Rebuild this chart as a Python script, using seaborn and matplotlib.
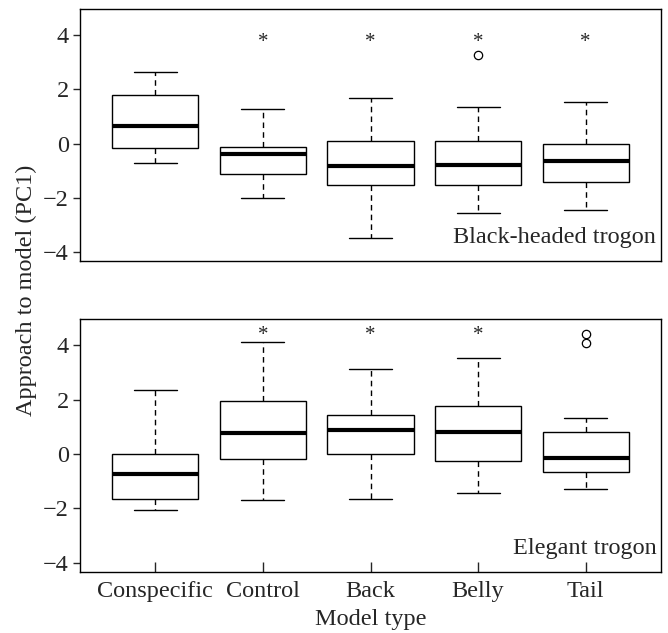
import numpy as np
import pandas as pd
import matplotlib
matplotlib.use("Agg")
import matplotlib.pyplot as plt
import seaborn as sns

categories = ["Conspecific", "Control", "Back", "Belly", "Tail"]

# Black-headed trogon: lower whisker, Q1, median, Q3, upper whisker
bh_low = [-0.73, -2.02, -3.49, -2.57, -2.44]
bh_q1 = [-0.17, -1.12, -1.54, -1.54, -1.41]
bh_med = [0.65, -0.38, -0.83, -0.79, -0.64]
bh_q3 = [1.78, -0.11, 0.09, 0.09, -0.02]
bh_high = [2.64, 1.26, 1.68, 1.34, 1.53]
bh_out_cat = ["Belly"]
bh_out_val = [3.27]
bh_sig = [False, True, True, True, True]

# Elegant trogon
el_low = [-2.06, -1.68, -1.67, -1.43, -1.27]
el_q1 = [-1.67, -0.20, 0.02, -0.25, -0.67]
el_med = [-0.74, 0.78, 0.89, 0.81, -0.15]
el_q3 = [0.00, 1.96, 1.44, 1.78, 0.80]
el_high = [2.35, 4.11, 3.12, 3.54, 1.31]
el_out_cat = ["Tail", "Tail"]
el_out_val = [4.43, 4.08]
el_sig = [False, True, True, True, False]

sns.set_style("ticks")
plt.rcParams["font.family"] = ["Liberation Serif", "DejaVu Serif"]
plt.rcParams["font.size"] = 17.5
plt.rcParams["axes.linewidth"] = 1.0

fig = plt.figure(figsize=(6.68, 6.33), dpi=100)
ax_top = fig.add_axes([0.1198, 0.5877, 0.8697, 0.3981])
ax_bot = fig.add_axes([0.1198, 0.0968, 0.8697, 0.3988])


def panel(ax, low, q1, med, q3, high, out_cat, out_val, sig, label, sig_y):
    rows = []
    for i, cat in enumerate(categories):
        for v in (low[i], q1[i], med[i], q3[i], high[i]):
            rows.append({"model": cat, "value": v})
    df = pd.DataFrame(rows)
    sns.boxplot(data=df, x="model", y="value", order=categories, ax=ax,
                whis=np.inf, width=0.8, color="white", linecolor="black",
                linewidth=1.0, saturation=1,
                medianprops={"linewidth": 3.0, "solid_capstyle": "butt"},
                whiskerprops={"linestyle": (0, (4, 3))})
    sns.stripplot(x=out_cat, y=out_val, order=categories, ax=ax, jitter=False,
                  color="white", edgecolor="black", linewidth=0.9, size=6)
    for i, s in enumerate(sig):
        if s:
            ax.text(i, sig_y, "*", ha="center", va="center", fontsize=15)
    ax.text(0.992, 0.07, label, transform=ax.transAxes, ha="right",
            va="baseline", fontsize=17.5)
    ax.set_xlim(-0.70, 4.70)
    ax.set_ylim(-4.33, 4.96)
    ax.set_yticks([-4, -2, 0, 2, 4])
    ax.set_ylabel("")
    ax.set_xlabel("")
    ax.tick_params(axis="y", direction="out", length=5, width=1, pad=3)
    for sp in ax.spines.values():
        sp.set_visible(True)
        sp.set_color("black")


panel(ax_top, bh_low, bh_q1, bh_med, bh_q3, bh_high, bh_out_cat, bh_out_val,
      bh_sig, "Black-headed trogon", 3.72)
panel(ax_bot, el_low, el_q1, el_med, el_q3, el_high, el_out_cat, el_out_val,
      el_sig, "Elegant trogon", 4.38)

ax_top.tick_params(axis="x", bottom=False, labelbottom=False)
ax_bot.tick_params(axis="x", direction="in", length=7, width=1, pad=7)
ax_bot.set_xlabel("Model type", labelpad=5)

fig.text(0.040, 0.542, "Approach to model (PC1)", rotation=90,
         ha="center", va="center", fontsize=17.5)

fig.savefig("out.png", dpi=100)
